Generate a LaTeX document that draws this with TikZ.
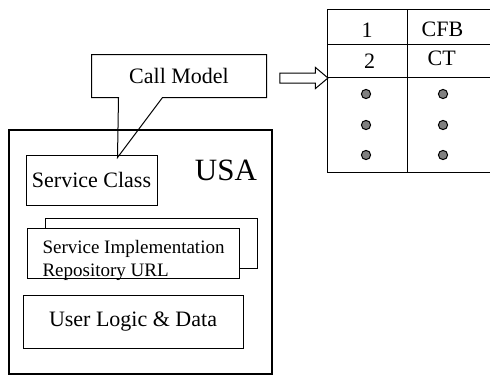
\documentclass[tikz,border=0pt]{standalone}
\usepackage{fontspec}
\setmainfont{Liberation Serif}
\usetikzlibrary{positioning,calc,shapes.arrows}
\colorlet{dotFill}{black!50}
\tikzset{
  box/.style={draw, line width=0.5pt, inner sep=0pt},
  txt/.style={inner sep=0pt, font=\fontsize{11}{13}\selectfont},
  dot/.style={circle, draw, fill=dotFill, minimum size=4.6pt, inner sep=0pt, line width=0.5pt},
}

\begin{document}
\begin{tikzpicture}[x=0.5pt, y=-0.5pt, line width=0.5pt]
\useasboundingbox (0,0) rectangle (490,375);

% the agent box and what sits in it
\node[box, line width=1pt, minimum width=131.5pt, minimum height=122pt] (usa) at (140.5,252) {};
\node[inner sep=0pt, font=\fontsize{15.5}{18}\selectfont] (usalabel) at (226,170) {USA};
\node[box, txt, minimum width=65.5pt, minimum height=25pt] (svc) at (91.5,180) {Service Class};
\node[box, minimum width=106pt, minimum height=25pt] (implback) at (151,243) {};
\node[box, fill=white, minimum width=106pt, minimum height=25pt] (impl) at ($(implback.center)+(-18,10)$) {};
\node[anchor=north west, align=left, inner sep=0pt,
      font=\fontsize{9.5}{11.5}\selectfont] (impltext) at (42,239.5)
  {Service Implementation\\Repository URL};
\node[box, txt, minimum width=110pt, minimum height=26.5pt] (logic) at (133,321.5) {User Logic \& Data};

% call model callout
\node[txt, minimum width=87pt, minimum height=21pt] (call) at (179,76) {Call Model};
\coordinate (tip) at ($(svc.north west)+(92,3)$);
\draw (call.south west) -- (call.north west) -- (call.north east) -- (call.south east)
  -- ($(call.south west)+(71,0)$) -- (tip) -- ($(call.south west)+(27,0)$) -- cycle;

\node[single arrow, draw, inner xsep=0pt, inner ysep=2.25pt, minimum height=24pt,
      single arrow head extend=2.75pt, single arrow tip angle=80] (arr) at (301,78) {};

% table, right border runs past the edge
\node[box, anchor=north west, minimum width=86pt, minimum height=81.5pt] (tab) at (327,9) {};
\draw ($(tab.north west)+(80,0)$) -- ($(tab.south west)+(80,0)$);
\draw ($(tab.north west)+(0,35)$) -- ($(tab.north east)+(0,35)$);
\draw ($(tab.north west)+(0,68)$) -- ($(tab.north east)+(0,68)$);

\node[txt] (one) at (367,30.5) {1};
\node[txt] (cfb) at (442.5,29.3) {CFB};
\node[txt] (two) at (369.5,61.7) {2};
\node[txt] (ct) at (441.7,58.3) {CT};

\foreach \y [count=\i] in {94,125,155} {
  \node[dot] (dotl\i) at (366,\y) {};
  \node[dot] (dotr\i) at (443,\y) {};
}
\end{tikzpicture}
\end{document}
